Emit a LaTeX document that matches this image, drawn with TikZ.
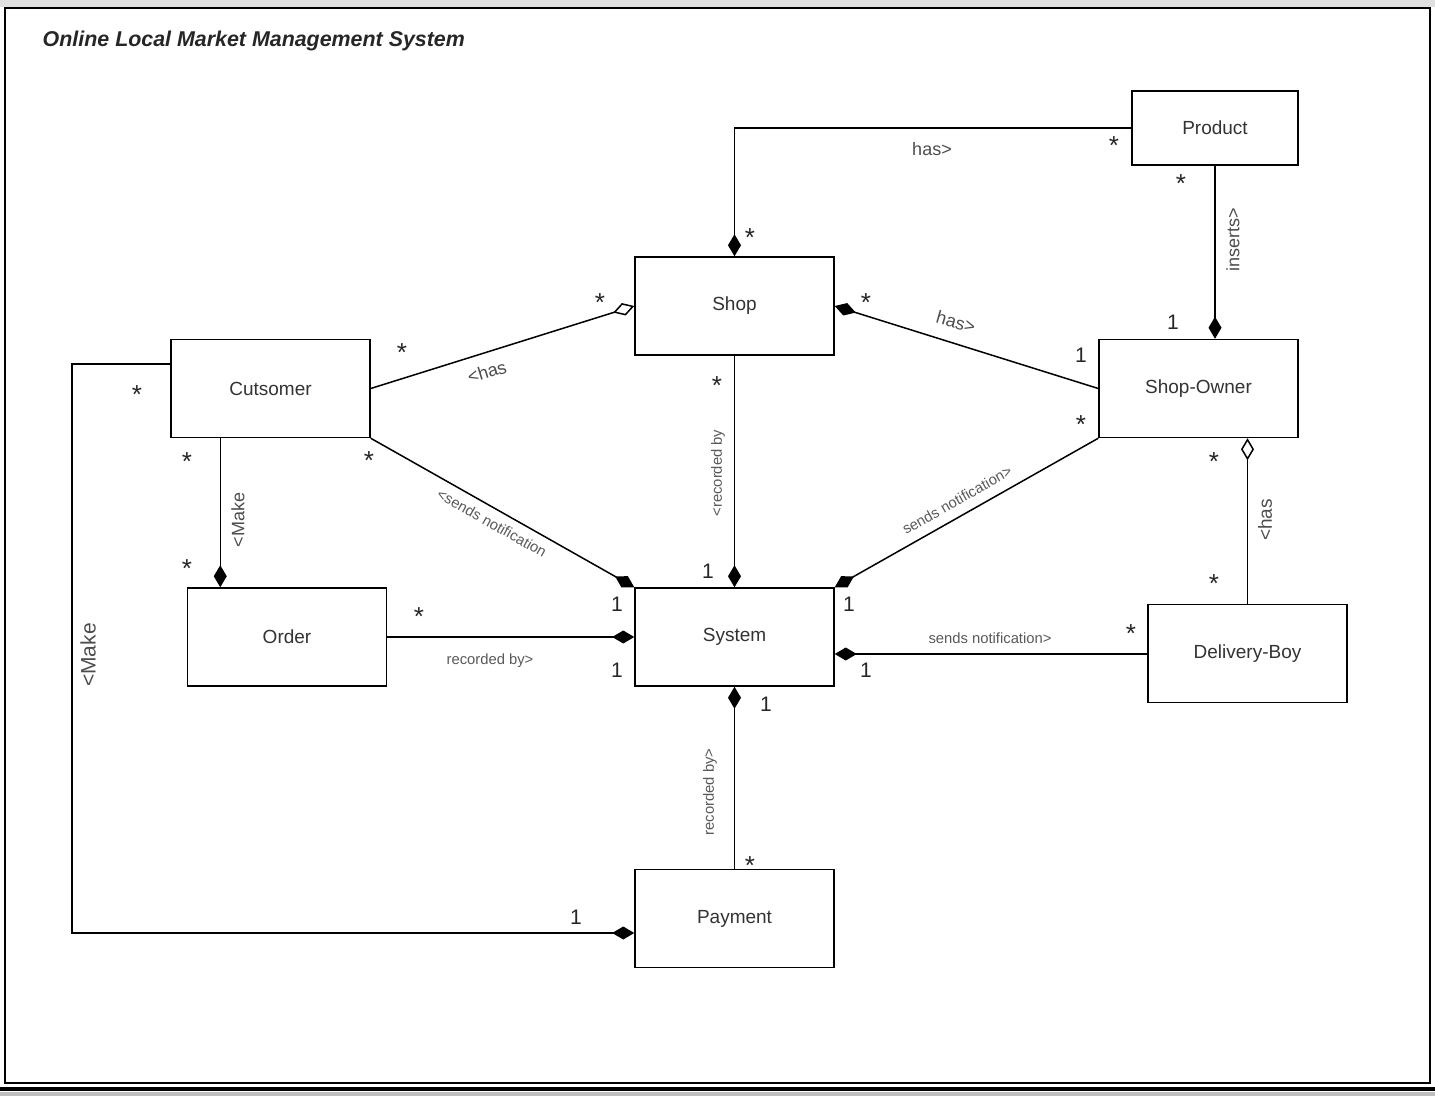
\documentclass[tikz,border=0pt]{standalone}
\usepackage{fontspec}
\setmainfont{Liberation Sans}
\usetikzlibrary{arrows.meta,calc}

\begin{document}
\begin{tikzpicture}[x=0.5pt,y=-0.5pt,line width=0.75pt,
                    comp/.style={-{Diamond[length=11pt,width=6.5pt]}},
                    aggr/.style={-{Diamond[open,length=11pt,width=6.5pt]}}]
  \tikzstyle{class}=[rectangle,draw=black,fill=white,minimum width=99.5pt,
                     minimum height=49pt,text=black!80,font=\fontsize{9.5}{11}\selectfont]
  \tikzstyle{mult}=[inner sep=0pt,text=black!85,font=\fontsize{10.5}{12}\selectfont]
  \tikzstyle{many}=[mult,font=\fontsize{13}{14}\selectfont,yshift=-3pt]
  \tikzstyle{role}=[inner sep=0pt,text=black!70,font=\fontsize{9}{11}\selectfont]
  \tikzstyle{note}=[inner sep=0pt,text=black!65,font=\fontsize{7.4}{9}\selectfont]

  % page frame
  \useasboundingbox (0,0) rectangle (1435,1096);
  \fill[black!12] (0,0) rectangle (1435,7);
  \fill[black!25] (0,1092) rectangle (1435,1096);
  \draw[line width=1pt] (5,8) rectangle (1430,1083);
  \draw[line width=2pt] (0,1089) -- (1435,1089);

  \node[anchor=west,inner sep=0pt,font=\fontsize{10.7}{13}\selectfont\bfseries\itshape,
        text=black!85] (title) at (42,41) {Online Local Market Management System};

  % classes
  \node[class,minimum width=83pt,minimum height=37pt] (product) at (1215,128) {Product};
  \node[class] (shop)     at (734.5,306)  {Shop};
  \node[class] (customer) at (270.5,388.5) {Cutsomer};
  \node[class] (owner)    at (1198.5,388.5) {Shop-Owner};
  \node[class] (order)    at (287,637)    {Order};
  \node[class] (system)   at (734.5,637)  {System};
  \node[class] (dboy)     at (1247.5,653.5) {Delivery-Boy};
  \node[class] (payment)  at (734.5,918.5) {Payment};

  % associations
  \draw[comp] (product.west) -| (shop.north);
  \draw[comp] (product.south) -- (product.south |- owner.north);
  \draw[comp] (owner.west) -- (shop.east);
  \draw[aggr] (customer.east) -- (shop.west);
  \draw[comp] (shop.south) -- (system.north);
  \draw[comp] (customer.south east) -- (system.north west);
  \draw[comp] (owner.south west) -- (system.north east);
  \draw[comp] ($(customer.south west)+(50,0)$) coordinate (cm) -- (cm |- order.north);
  \draw[comp] (order.east) -- (system.west);
  \draw[comp] ($(dboy.west)+(0,0.5)$) coordinate (dw) -- (dw -| system.east);
  \draw[aggr] (dboy.north) -- (dboy.north |- owner.south);
  \draw[comp] (payment.north) -- (system.south);
  \coordinate (bend) at (72,364);
  \draw[comp] (customer.west |- bend) -- (bend) |- ($(payment.west)+(0,14.5)$);

  % association names
  \node[role] (n1)  at (932,149) {has>};
  \node[role,rotate=90] (n2) at (1233,240) {inserts>};
  \node[role,rotate=-16] (n3) at (956,322) {has>};
  \node[role,rotate=17] (n4) at (487,372) {<has};
  \node[note,rotate=90] (n5) at (718,473) {<recorded by};
  \node[note,rotate=-29.5] (n6) at (492,523) {<sends notification};
  \node[note,rotate=29.5] (n7) at (957,500) {sends notification>};
  \node[role,rotate=90] (n8) at (238,520) {<Make};
  \node[note] (n9)  at (490,661) {recorded by>};
  \node[note] (n10) at (990,638) {sends notification>};
  \node[role,font=\fontsize{9.5}{11}\selectfont,rotate=90] (n11) at (1265,520) {<has};
  \node[note,rotate=90] (n12) at (710,792) {recorded by>};
  \node[role,font=\fontsize{10.5}{12}\selectfont,rotate=90] (n13) at (88,655) {<Make};

  % multiplicities
  \foreach \x/\y [count=\i] in {1114/140, 750/232, 1181/178, 866/297, 600/297,
      402/347, 717/380, 369/455, 1081/419, 187/456, 187/563, 419/611,
      1131/628, 1214/456, 1214/578, 750/860, 137/389}
    \node[many] (s\i) at (\x,\y) {*};
  \foreach \x/\y [count=\i] in {1173/322, 1081/355, 708/571, 617/604, 849/604,
      617/670, 866/670, 766/704, 576/917}
    \node[mult] (o\i) at (\x,\y) {1};
\end{tikzpicture}
\end{document}
